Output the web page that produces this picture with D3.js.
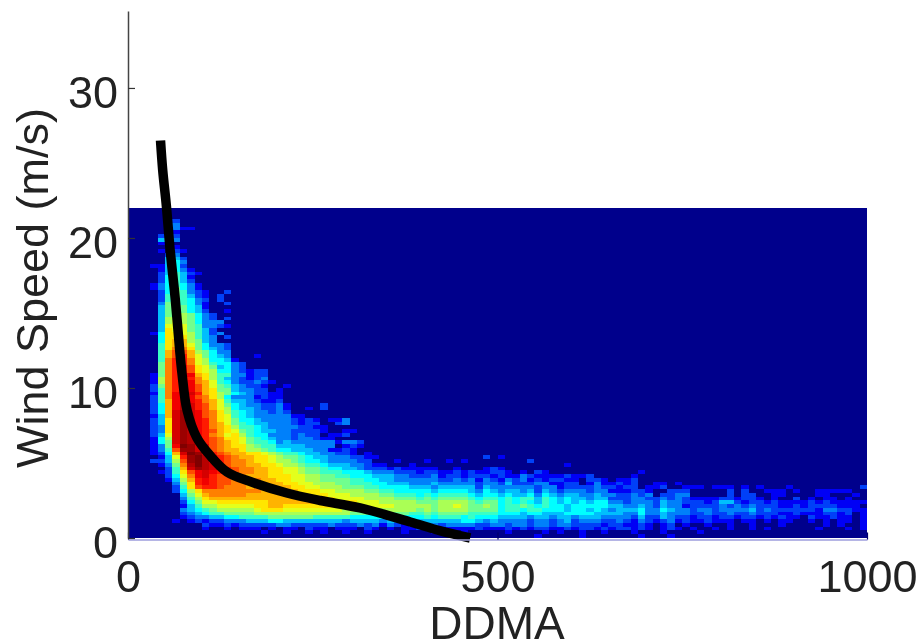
<!DOCTYPE html>
<html>
<head>
<meta charset="utf-8">
<title>Wind speed vs DDMA</title>
<script src="https://cdnjs.cloudflare.com/ajax/libs/d3/7.8.5/d3.min.js"></script>
<style>
  html, body { margin: 0; padding: 0; background: #fff; overflow: hidden; }
  svg { display: block; filter: blur(0.55px); }
  text { font-family: "Liberation Sans", Arial, sans-serif; fill: #222; }
</style>
</head>
<body>
<div id="chart"></div>
<script>
//tick labels
const xTicks = [0, 500, 1000];
const yTicks = [0, 10, 20, 30];
const xLabel = 'DDMA';
const yLabel = 'Wind Speed (m/s)';

//bin sizes of the 2d histogram
const binWidth = 10;     //DDMA per column
const binHeight = 0.25;  //m/s per row
const histTop = 22;      //m/s at top of first row

//mean curve
const curveDdma = [44, 47, 52, 57, 64, 70, 73, 80, 93, 111, 134, 169, 215, 260, 314, 382, 423, 463];
const curveSpeed = [26.5, 24.5, 22.1, 19.2, 15.9, 12.5, 11, 8.5, 6.7, 5.5, 4.4, 3.7, 3, 2.5, 2, 1.07, 0.47, 0];

//histogram levels, first row is the top one. one base 36 char per column, blocks of ten, rest of row is 0
const heatRows = [
  '',
  '',
  '',
  '0000002000',
  '0000003000',
  '0000003110',
  '0000001000',
  '0000202000',
  '0000403000',
  '0000100000',
  '0000001000',
  '0000102100',
  '0000023000',
  '0000044200',
  '0000045300',
  '0001145200',
  '0000145310',
  '0000246421',
  '0000256410',
  '0000256420',
  '0001356531',
  '0001357531',
  '0000257632 1002',
  '0000267642 1020',
  '0000267653 2020',
  '0000378653 1002',
  '0000478754 1',
  '0000478754 2001',
  '0000478875 32',
  '0000488875 3202',
  '0000489875 333',
  '0000499976 3321',
  '00004a9976 42',
  '00015aa986 423',
  '00005aaa86 4302',
  '00005abb87 43',
  '00006abb97 5332',
  '00006acca7 5432',
  '00006bddb8 7533',
  '00006bdeb9 7543000100',
  '00006ceec9 8554100000',
  '00007ceec9 8655320000',
  '00007cefda 9745320000',
  '00007cefda 9855321220',
  '00017ceffb a866331220',
  '00018cegec a864321230',
  '00018cegfc b965322321',
  '00027cegfd b976432210 01',
  '00026cegfd ba77433220 1',
  '00016cfgge ba87543221 1',
  '00026cfhfd ca85333121 1',
  '00026bfhfe cb96443211 2',
  '00025bfhge db97543322 3100002000',
  '00025bfhge db98544322 3100102000',
  '00025bgigf dca8654332 32',
  '00014bgigf dca9654333 3311',
  '00024agigf eca9755433 3321210113',
  '00024agihf ecb9765443 3321220023',
  '00023agihf ecba866543 3332211',
  '00023agihf edba976544 3322221001 1',
  '000249gihf ecb9a86553 3323220112',
  '000158gihf edcaa97654 33233211',
  '000157gihg edcba97665 3433333313 32',
  '000137fjig fdcbaa8766 4444333301 21',
  '000136diig fdcbba8876 5544433112 1',
  '000125bgji gedcbbaa98 7665443322 101',
  '0000149eij hfedcbbaa9 8776544333 2211 0000000000 0000201',
  '0002248dij hfedccbaa9 8876554333 3220001000 1001010000 0000200',
  '0000137chj hgedccbbaa 9887665444 3321100010 0000000000 0000000001',
  '0000026bgi hgfedccbba a998776554 4322212111 1100100012 1',
  '0000126adf gfeddccbba a998776665 5543332221 2211212112 2101021000 0000000001',
  '0000025 9cf geddccbbba aa99887766 5554443322 2312212221 2113211112 1120000010',
  '00000148be feddccccbb aa99887777 6655443333 3322323132 1323121221 1022101120',
  '00000037ae feddccccbb baa9988877 6665544433 3433333233 2422233112 2013112120 011010',
  '00000026ad eedcccbccb bbaa998887 7766555544 4344444243 3333323312 2223221220 1120011101 1101010001 0000000002',
  '000000258a ccccccccbb bbbaaa9988 8877665555 5455554354 3443424323 3323311122 1002220000 0202001110 1001111100',
  '0000000479 bcccccbbbb bbbbaaa999 8888776665 6566665455 4544535434 4334332232 3022330000 0202200110 0001100010',
  '0000000368 abbbbbbbbb bbbbaaaa99 9988887776 7677776566 5656646545 4434422233 2232321111 2212210100 2010110100',
  '0000000257 99aaaaaaab bbbbbbaaaa a999888887 7788887677 5656546545 4545533233 3243322212 4421221211 1121211111',
  '0000000146 8899999aab baaaaaaaaa a999998888 8788987787 5667656554 5555544334 3243312222 3232322211 2122221110',
  '0000000345 67888889aa a999999998 8888888887 8788887777 5665665554 5545434445 3354332332 3333423222 2221332211',
  '0000000234 5667777888 8888888888 7777777766 7677776666 5554554445 5554444335 3343332232 2322322211 2111221201',
  '0000000123 3445566667 7777766666 5555555555 6566656555 4444344344 3444333324 2243221221 2212212121 1021121101',
  '0000001012 1223334445 5444444443 4444343344 4444455434 3333233234 2333223213 2123121121 1101101011 0010101101',
  '0000000000 2112122222 3322222322 2323132123 3323333223 3233233233 2222122112 1012010010 0100100010 0000101001',
  '0000000000 1001011101 0110211011 1021010112 1201111211 1212122112 1221212212 1012101001 0100101000 0001000101',
  '0000000000 0000000010 0100101001 0010000100 0100010000 0100001010 0100100010 0010000100',
  '0000000000 0000000000 0000000000 0000000000 0000000000 0000010000 0100000001 0001'
];

const jetLevels = [0, 1, 5, 9.5, 14.5, 19];
const jetColors = ['#00008c', '#0000f5', '#00ffff', '#ffff00', '#ff0000', '#800000'];

let width = 917;
let height = 643;

let x = d3.scaleLinear().domain([0, 1000]).range([128, 867]);
let y = d3.scaleLinear().domain([0, 35.13]).range([538, 11]);
let color = d3.scaleLinear().domain(jetLevels).range(jetColors).clamp(true);

let svg = d3.select('#chart').append('svg').attr('width', width).attr('height', height);

//turn the rows into cells
let cells = [];
heatRows.forEach(function(row, r) {
  let chars = row.replace(/ /g, '');
  for (let c = 0; c < 100; c++) {
    let level = c < chars.length ? parseInt(chars[c], 36) : 0;
    cells.push({ddma: c * binWidth, speed: histTop - r * binHeight, level: level});
  }
});

svg.append('g').attr('shape-rendering', 'crispEdges').selectAll('rect')
  .data(cells)
  .enter().append('rect')
  .attr('x', d => x(d.ddma))
  .attr('y', d => y(d.speed))
  .attr('width', x(binWidth) - x(0))
  .attr('height', y(0) - y(binHeight))
  .attr('fill', d => color(d.level));

//black mean curve
let line = d3.line()
  .x((d, i) => x(curveDdma[i]))
  .y((d, i) => y(curveSpeed[i]))
  .curve(d3.curveCatmullRom);

svg.append('path')
  .attr('fill', 'none')
  .attr('stroke', '#000')
  .attr('stroke-width', 9.5)
  .attr('d', line(curveDdma));

//axes, matlab style ticks pointing inwards
let xAxis = d3.axisBottom(x).tickValues(xTicks).tickFormat(d3.format('d')).tickSizeInner(-7).tickSizeOuter(0).tickPadding(21);
let yAxis = d3.axisLeft(y).tickValues(yTicks).tickSizeInner(-7).tickSizeOuter(0).tickPadding(10);

let gx = svg.append('g').attr('transform', 'translate(0,539.5)').call(xAxis);
let gy = svg.append('g').attr('transform', 'translate(128,0)').call(yAxis);

gy.select('.domain').attr('stroke', '#444').attr('stroke-width', 1.5);
gx.select('.domain').attr('stroke', '#9c9cdc').attr('stroke-width', 1.6);
gy.selectAll('.tick line').attr('stroke', '#333').attr('stroke-width', 1.2);
gx.selectAll('.tick line').attr('stroke', '#00006a').attr('stroke-width', 1.2);
gx.selectAll('text').attr('font-size', 45).attr('fill', '#222');
gy.selectAll('text').attr('font-size', 45).attr('fill', '#222').attr('dy', '0.44em');

svg.append('text')
  .attr('x', 497)
  .attr('y', 639)
  .attr('text-anchor', 'middle')
  .attr('font-size', 46)
  .text(xLabel);

svg.append('text')
  .attr('transform', 'translate(48,288) rotate(-90)')
  .attr('text-anchor', 'middle')
  .attr('font-size', 45)
  .text(yLabel);
</script>
</body>
</html>
